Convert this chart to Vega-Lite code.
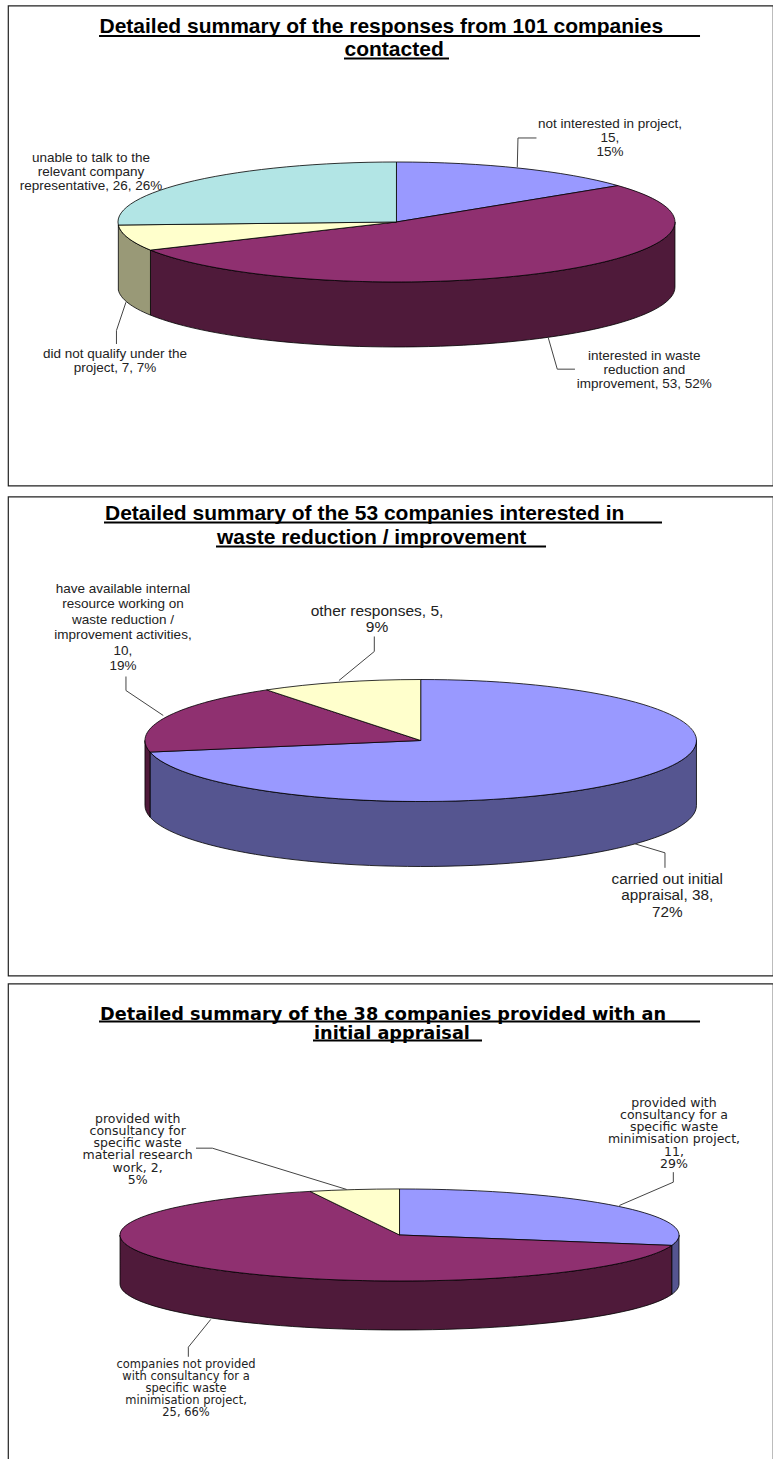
{
  "$schema": "https://vega.github.io/schema/vega-lite/v6.json",
  "padding": {"left": 7, "top": 4.5, "right": 0, "bottom": 0},
  "background": "#ffffff",
  "config": {
    "axis": {"disable": true},
    "legend": {"disable": true},
    "view": {"stroke": "#222222", "strokeWidth": 1.2},
    "text": {"font": "Liberation Sans", "color": "#222222", "lineBreak": "\n", "baseline": "alphabetic"}
  },
  "datasets": {
    "responses": [
      {"slice": "not interested in project", "count": 15, "percent": 15, "label": "not interested in project,\n15,\n15%"},
      {"slice": "interested in waste reduction and improvement", "count": 53, "percent": 52, "label": "interested in waste\nreduction and\nimprovement, 53, 52%"},
      {"slice": "did not qualify under the project", "count": 7, "percent": 7, "label": "did not qualify under the\nproject, 7, 7%"},
      {"slice": "unable to talk to the relevant company representative", "count": 26, "percent": 26, "label": "unable to talk to the\nrelevant company\nrepresentative, 26, 26%"}
    ],
    "interested": [
      {"slice": "carried out initial appraisal", "count": 38, "percent": 72, "label": "carried out initial\nappraisal, 38,\n72%"},
      {"slice": "have available internal resource", "count": 10, "percent": 19, "label": "have available internal\nresource working on\nwaste reduction /\nimprovement activities,\n10,\n19%"},
      {"slice": "other responses", "count": 5, "percent": 9, "label": "other responses, 5,\n9%"}
    ],
    "appraised": [
      {"slice": "provided with consultancy for a specific waste minimisation project", "count": 11, "percent": 29, "label": "provided with\nconsultancy for a\nspecific waste\nminimisation project,\n11,\n29%"},
      {"slice": "companies not provided with consultancy", "count": 25, "percent": 66, "label": "companies not provided\nwith consultancy for a\nspecific waste\nminimisation project,\n25, 66%"},
      {"slice": "provided with consultancy for specific waste material research work", "count": 2, "percent": 5, "label": "provided with\nconsultancy for\nspecific  waste\nmaterial research\nwork, 2,\n5%"}
    ]
  },
  "vconcat": [
    {
      "vconcat": [
        {
          "width": 765,
          "height": 480,
          "data": {"name": "responses"},
          "resolve": {"scale": {"shape": "independent", "fill": "independent"}},
          "layer": [
            {
              "transform": [{"filter": {"field": "slice", "oneOf": ["interested in waste reduction and improvement", "did not qualify under the project"]}}],
              "mark": {"type": "point", "filled": true, "opacity": 1, "size": 310249, "stroke": "#000000", "strokeWidth": 0.8},
              "encoding": {
                "x": {"datum": 50.78, "scale": {"domain": [0, 100]}},
                "y": {"datum": 45.1, "scale": {"domain": [100, 0]}},
                "shape": {"field": "slice", "scale": {
                  "domain": ["interested in waste reduction and improvement", "did not qualify under the project"],
                  "range": [
                    "M1,0A1,0.2154 0 0 1 -0.8833,0.10098L-0.8833,0.33438A1,0.2154 0 0 0 1,0.2334Z",
                    "M-0.8833,0.10098A1,0.2154 0 0 1 -0.9987,0.01098L-0.9987,0.24438A1,0.2154 0 0 0 -0.8833,0.33438Z"
                  ]}},
                "fill": {"field": "slice", "scale": {
                  "domain": ["interested in waste reduction and improvement", "did not qualify under the project"],
                  "range": ["#4f1a3a", "#999977"]}}
              }
            },
            {
              "mark": {"type": "point", "filled": true, "opacity": 1, "size": 310249, "stroke": "#000000", "strokeWidth": 0.8},
              "encoding": {
                "x": {"datum": 50.78},
                "y": {"datum": 45.1},
                "shape": {"field": "slice", "scale": {
                  "domain": ["not interested in project", "interested in waste reduction and improvement", "did not qualify under the project", "unable to talk to the relevant company representative"],
                  "range": [
                    "M0,0L0,-0.2154A1,0.2154 0 0 1 0.7953,-0.13058Z",
                    "M0,0L0.7953,-0.13058A1,0.2154 0 1 1 -0.8833,0.10098Z",
                    "M0,0L-0.8833,0.10098A1,0.2154 0 0 1 -0.9987,0.01098Z",
                    "M0,0L-0.9987,0.01098A1,0.2154 0 0 1 0,-0.2154Z"
                  ]}},
                "fill": {"field": "slice", "scale": {
                  "domain": ["not interested in project", "interested in waste reduction and improvement", "did not qualify under the project", "unable to talk to the relevant company representative"],
                  "range": ["#9999ff", "#8f3070", "#ffffcc", "#b2e5e5"]}}
              }
            },
            {
              "transform": [{"filter": {"field": "slice", "oneOf": ["not interested in project", "interested in waste reduction and improvement", "did not qualify under the project"]}}],
              "mark": {"type": "point", "filled": false, "opacity": 1, "size": 310249, "stroke": "#444444", "strokeWidth": 1},
              "encoding": {
                "x": {"datum": 50.78},
                "y": {"datum": 45.1},
                "shape": {"field": "slice", "scale": {
                  "domain": ["not interested in project", "interested in waste reduction and improvement", "did not qualify under the project"],
                  "range": [
                    "M0.4338,-0.1968L0.4363,-0.3016L0.5027,-0.3016",
                    "M0.5451,0.4158L0.5774,0.5285L0.6409,0.5285",
                    "M-0.9713,0.288L-1.0054,0.3896L-1.0054,0.4381"
                  ]}}
              }
            },
            {
              "transform": [{"filter": {"field": "slice", "equal": "not interested in project"}}],
              "mark": {"type": "text", "fontSize": 13.5, "lineHeight": 14.3},
              "encoding": {"x": {"datum": 78.69}, "y": {"datum": 25.42}, "text": {"field": "label"}}
            },
            {
              "transform": [{"filter": {"field": "slice", "equal": "interested in waste reduction and improvement"}}],
              "mark": {"type": "text", "fontSize": 13.5, "lineHeight": 14},
              "encoding": {"x": {"datum": 83.18}, "y": {"datum": 73.81}, "text": {"field": "label"}}
            },
            {
              "transform": [{"filter": {"field": "slice", "equal": "did not qualify under the project"}}],
              "mark": {"type": "text", "fontSize": 13.5, "lineHeight": 14},
              "encoding": {"x": {"datum": 13.99}, "y": {"datum": 73.4}, "text": {"field": "label"}}
            },
            {
              "transform": [{"filter": {"field": "slice", "equal": "unable to talk to the relevant company representative"}}],
              "mark": {"type": "text", "fontSize": 13.5, "lineHeight": 14.3},
              "encoding": {"x": {"datum": 10.85}, "y": {"datum": 32.56}, "text": {"field": "label"}}
            },
            {
              "data": {"values": [{"line": "Detailed summary of the responses from 101 companies"}]},
              "mark": {"type": "text", "fontSize": 21, "fontWeight": "bold", "align": "left", "color": "#000000"},
              "encoding": {"x": {"datum": 11.96}, "y": {"datum": 5.73}, "text": {"field": "line"}}
            },
            {
              "data": {"values": [{"line": "contacted"}]},
              "mark": {"type": "text", "fontSize": 21, "fontWeight": "bold", "align": "left", "color": "#000000"},
              "encoding": {"x": {"datum": 43.99}, "y": {"datum": 10.52}, "text": {"field": "line"}}
            },
            {
              "data": {"values": [{"line": "Detailed summary of the responses from 101 companies"}]},
              "mark": {"type": "rule", "strokeWidth": 2, "color": "#000000"},
              "encoding": {"x": {"datum": 11.9}, "x2": {"datum": 90.46}, "y": {"datum": 6.35}}
            },
            {
              "data": {"values": [{"line": "contacted"}]},
              "mark": {"type": "rule", "strokeWidth": 2, "color": "#000000"},
              "encoding": {"x": {"datum": 43.92}, "x2": {"datum": 57.65}, "y": {"datum": 11.04}}
            }
          ]
        },
        {
          "width": 765,
          "height": 479,
          "data": {"name": "interested"},
          "resolve": {"scale": {"shape": "independent", "fill": "independent"}},
          "layer": [
            {
              "transform": [{"filter": {"field": "slice", "oneOf": ["carried out initial appraisal", "have available internal resource"]}}],
              "mark": {"type": "point", "filled": true, "opacity": 1, "size": 304152, "stroke": "#000000", "strokeWidth": 0.8},
              "encoding": {
                "x": {"datum": 53.95, "scale": {"domain": [0, 100]}},
                "y": {"datum": 50.94, "scale": {"domain": [100, 0]}},
                "shape": {"field": "slice", "scale": {
                  "domain": ["carried out initial appraisal", "have available internal resource"],
                  "range": [
                    "M1,0A1,0.2212 0 0 1 -0.9818,0.04201L-0.9818,0.27771A1,0.2212 0 0 0 1,0.2357Z",
                    "M-0.9818,0.04201A1,0.2212 0 0 1 -1,0L-1,0.2357A1,0.2212 0 0 0 -0.9818,0.27771Z"
                  ]}},
                "fill": {"field": "slice", "scale": {
                  "domain": ["carried out initial appraisal", "have available internal resource"],
                  "range": ["#555590", "#4f1a3a"]}}
              }
            },
            {
              "mark": {"type": "point", "filled": true, "opacity": 1, "size": 304152, "stroke": "#000000", "strokeWidth": 0.8},
              "encoding": {
                "x": {"datum": 53.95},
                "y": {"datum": 50.94},
                "shape": {"field": "slice", "scale": {
                  "domain": ["carried out initial appraisal", "have available internal resource", "other responses"],
                  "range": [
                    "M0,0L0,-0.2212A1,0.2212 0 1 1 -0.9818,0.04201Z",
                    "M0,0L-0.9818,0.04201A1,0.2212 0 0 1 -0.5587,-0.18346Z",
                    "M0,0L-0.5587,-0.18346A1,0.2212 0 0 1 0,-0.2212Z"
                  ]}},
                "fill": {"field": "slice", "scale": {
                  "domain": ["carried out initial appraisal", "have available internal resource", "other responses"],
                  "range": ["#9999ff", "#8f3070", "#ffffcc"]}}
              }
            },
            {
              "mark": {"type": "point", "filled": false, "opacity": 1, "size": 304152, "stroke": "#444444", "strokeWidth": 1},
              "encoding": {
                "x": {"datum": 53.95},
                "y": {"datum": 50.94},
                "shape": {"field": "slice", "scale": {
                  "domain": ["carried out initial appraisal", "have available internal resource", "other responses"],
                  "range": [
                    "M0.777,0.3746L0.8858,0.4073L0.8858,0.4617",
                    "M-0.9336,-0.0907L-1.0689,-0.1813L-1.0689,-0.2321",
                    "M-0.2965,-0.2176L-0.1683,-0.3228L-0.1683,-0.3772"
                  ]}}
              }
            },
            {
              "transform": [{"filter": {"field": "slice", "equal": "carried out initial appraisal"}}],
              "mark": {"type": "text", "fontSize": 15.3, "lineHeight": 16.5},
              "encoding": {"x": {"datum": 86.18}, "y": {"datum": 80.89}, "text": {"field": "label"}}
            },
            {
              "transform": [{"filter": {"field": "slice", "equal": "have available internal resource"}}],
              "mark": {"type": "text", "fontSize": 13.5, "lineHeight": 15.4},
              "encoding": {"x": {"datum": 15.03}, "y": {"datum": 20.14}, "text": {"field": "label"}}
            },
            {
              "transform": [{"filter": {"field": "slice", "equal": "other responses"}}],
              "mark": {"type": "text", "fontSize": 15.5, "lineHeight": 16},
              "encoding": {"x": {"datum": 48.24}, "y": {"datum": 24.94}, "text": {"field": "label"}}
            },
            {
              "data": {"values": [{"line": "Detailed summary of the 53 companies interested in"}]},
              "mark": {"type": "text", "fontSize": 21, "fontWeight": "bold", "align": "left", "color": "#000000"},
              "encoding": {"x": {"datum": 12.68}, "y": {"datum": 5}, "text": {"field": "line"}}
            },
            {
              "data": {"values": [{"line": "waste reduction / improvement"}]},
              "mark": {"type": "text", "fontSize": 21, "fontWeight": "bold", "align": "left", "color": "#000000"},
              "encoding": {"x": {"datum": 27.32}, "y": {"datum": 10.01}, "text": {"field": "line"}}
            },
            {
              "data": {"values": [{"line": "Detailed summary of the 53 companies interested in"}]},
              "mark": {"type": "rule", "strokeWidth": 2, "color": "#000000"},
              "encoding": {"x": {"datum": 12.55}, "x2": {"datum": 85.49}, "y": {"datum": 5.43}}
            },
            {
              "data": {"values": [{"line": "waste reduction / improvement"}]},
              "mark": {"type": "rule", "strokeWidth": 2, "color": "#000000"},
              "encoding": {"x": {"datum": 27.19}, "x2": {"datum": 70.33}, "y": {"datum": 10.44}}
            }
          ]
        }
      ],
      "spacing": 9,
      "resolve": {"scale": {"shape": "independent", "fill": "independent"}}
    },
    {
      "width": 765,
      "height": 477,
      "data": {"name": "appraised"},
      "resolve": {"scale": {"shape": "independent", "fill": "independent"}},
      "layer": [
        {
          "transform": [{"filter": {"field": "slice", "oneOf": ["provided with consultancy for a specific waste minimisation project", "companies not provided with consultancy"]}}],
          "mark": {"type": "point", "filled": true, "opacity": 1, "size": 312481, "stroke": "#000000", "strokeWidth": 0.8},
          "encoding": {
            "x": {"datum": 51.18, "scale": {"domain": [0, 100]}},
            "y": {"datum": 52.72, "scale": {"domain": [100, 0]}},
            "shape": {"field": "slice", "scale": {
              "domain": ["provided with consultancy for a specific waste minimisation project", "companies not provided with consultancy"],
              "range": [
                "M1,0A1,0.1646 0 0 1 0.9739,0.03736L0.9739,0.21266A1,0.1646 0 0 0 1,0.1753Z",
                "M0.9739,0.03736A1,0.1646 0 0 1 -1,0L-1,0.1753A1,0.1646 0 0 0 0.9739,0.21266Z"
              ]}},
            "fill": {"field": "slice", "scale": {
              "domain": ["provided with consultancy for a specific waste minimisation project", "companies not provided with consultancy"],
              "range": ["#555590", "#4f1a3a"]}}
          }
        },
        {
          "mark": {"type": "point", "filled": true, "opacity": 1, "size": 312481, "stroke": "#000000", "strokeWidth": 0.8},
          "encoding": {
            "x": {"datum": 51.18},
            "y": {"datum": 52.72},
            "shape": {"field": "slice", "scale": {
              "domain": ["provided with consultancy for a specific waste minimisation project", "companies not provided with consultancy", "provided with consultancy for specific waste material research work"],
              "range": [
                "M0,0L0,-0.1646A1,0.1646 0 0 1 0.9739,0.03736Z",
                "M0,0L0.9739,0.03736A1,0.1646 0 1 1 -0.3202,-0.15593Z",
                "M0,0L-0.3202,-0.15593A1,0.1646 0 0 1 0,-0.1646Z"
              ]}},
            "fill": {"field": "slice", "scale": {
              "domain": ["provided with consultancy for a specific waste minimisation project", "companies not provided with consultancy", "provided with consultancy for specific waste material research work"],
              "range": ["#9999ff", "#8f3070", "#ffffcc"]}}
          }
        },
        {
          "mark": {"type": "point", "filled": false, "opacity": 1, "size": 312481, "stroke": "#444444", "strokeWidth": 1},
          "encoding": {
            "x": {"datum": 51.18},
            "y": {"datum": 52.72},
            "shape": {"field": "slice", "scale": {
              "domain": ["provided with consultancy for a specific waste minimisation project", "companies not provided with consultancy", "provided with consultancy for specific waste material research work"],
              "range": [
                "M0.7864,-0.1055L0.9796,-0.1889L0.9796,-0.2247",
                "M-0.6755,0.3023L-0.7556,0.4014L-0.7556,0.4358",
                "M-0.1889,-0.1628L-0.6698,-0.3106L-0.7281,-0.3106"
              ]}}
          }
        },
        {
          "transform": [{"filter": {"field": "slice", "equal": "provided with consultancy for a specific waste minimisation project"}}],
          "mark": {"type": "text", "font": "DejaVu Sans", "fontSize": 12.5, "lineHeight": 12.1},
          "encoding": {"x": {"datum": 87.06}, "y": {"datum": 25.92}, "text": {"field": "label"}}
        },
        {
          "transform": [{"filter": {"field": "slice", "equal": "companies not provided with consultancy"}}],
          "mark": {"type": "text", "font": "DejaVu Sans", "fontSize": 11.5, "lineHeight": 11.8},
          "encoding": {"x": {"datum": 23.27}, "y": {"datum": 80.7}, "text": {"field": "label"}}
        },
        {
          "transform": [{"filter": {"field": "slice", "equal": "provided with consultancy for specific waste material research work"}}],
          "mark": {"type": "text", "font": "DejaVu Sans", "fontSize": 12.5, "lineHeight": 12.2},
          "encoding": {"x": {"datum": 16.95}, "y": {"datum": 29.2}, "text": {"field": "label"}}
        },
        {
          "data": {"values": [{"line": "Detailed summary of the 38 companies provided with an"}]},
          "mark": {"type": "text", "font": "DejaVu Sans", "fontSize": 17.7, "fontWeight": "bold", "align": "left", "color": "#000000"},
          "encoding": {"x": {"datum": 12.03}, "y": {"datum": 7.74}, "text": {"field": "line"}}
        },
        {
          "data": {"values": [{"line": "initial appraisal"}]},
          "mark": {"type": "text", "font": "DejaVu Sans", "fontSize": 17.7, "fontWeight": "bold", "align": "left", "color": "#000000"},
          "encoding": {"x": {"datum": 40}, "y": {"datum": 11.72}, "text": {"field": "line"}}
        },
        {
          "data": {"values": [{"line": "Detailed summary of the 38 companies provided with an"}]},
          "mark": {"type": "rule", "strokeWidth": 2, "color": "#000000"},
          "encoding": {"x": {"datum": 11.9}, "x2": {"datum": 90.46}, "y": {"datum": 7.97}}
        },
        {
          "data": {"values": [{"line": "initial appraisal"}]},
          "mark": {"type": "rule", "strokeWidth": 2, "color": "#000000"},
          "encoding": {"x": {"datum": 39.87}, "x2": {"datum": 61.96}, "y": {"datum": 11.95}}
        }
      ]
    }
  ],
  "spacing": 6,
  "resolve": {"scale": {"shape": "independent", "fill": "independent"}}
}
